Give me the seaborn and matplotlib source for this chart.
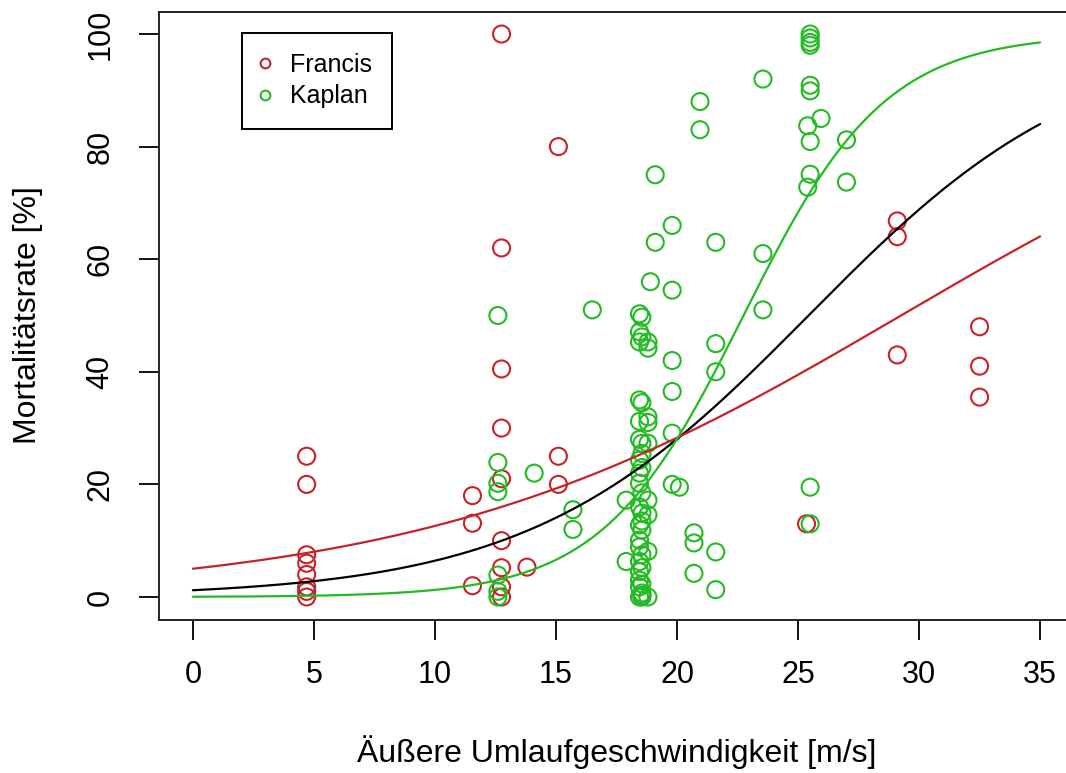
import numpy as np
import pandas as pd
import matplotlib
matplotlib.use("Agg")
import matplotlib.pyplot as plt
from matplotlib.lines import Line2D
import seaborn as sns

# ---------------- data ----------------
francis_x = ([4.7] * 8 + [11.55] * 3 + [12.75] * 9 + [13.8] + [15.1] * 3
             + [25.35] + [29.1] * 3 + [32.5] * 3)
francis_y = ([25, 20, 7.5, 6, 4, 1.8, 1, 0]
             + [18, 13.1, 2]
             + [100, 62, 40.5, 30, 21, 10, 5.2, 1.8, 0]
             + [5.3]
             + [80, 25, 20]
             + [13]
             + [66.8, 64, 43]
             + [48, 41, 35.5])

kaplan_x = ([12.6] * 7 + [14.1] + [15.7] * 2 + [16.5] + [17.9] * 2
            + [18.45] * 18 + [18.55] * 16 + [18.8] * 9
            + [18.9] + [19.1] * 2 + [19.8] * 6 + [20.1] + [20.7] * 3
            + [20.95] * 2 + [21.6] * 5 + [23.55] * 3 + [25.4] * 2
            + [25.5] * 10 + [25.95] + [27.0] * 2)
kaplan_y = ([50, 23.9, 20.2, 18.7, 3.9, 1, 0]
            + [22]
            + [15.5, 12]
            + [51]
            + [17.2, 6.3]
            + [50.3, 47.1, 45.3, 35, 31.2, 28, 24.3, 22, 20.2, 16, 12.8,
               10.1, 8.9, 6.3, 4.5, 3, 1.8, 0]
            + [49.7, 46.2, 34.5, 27.3, 25.5, 23, 18.5, 14.9, 13.5, 11.9,
               7.5, 5.2, 2.3, 0.7, 0.3, 0]
            + [45.3, 44.2, 32, 31, 27.3, 17.2, 14.6, 8.1, 0]
            + [56]
            + [75, 63]
            + [66, 54.5, 42, 36.5, 29.1, 20]
            + [19.5]
            + [11.4, 9.6, 4.2]
            + [88, 83]
            + [63, 45, 40, 8, 1.3]
            + [92, 61, 51]
            + [83.7, 72.8]
            + [100, 99.3, 98.5, 98, 90.9, 89.9, 80.9, 75.1, 19.5, 13]
            + [85]
            + [81.2, 73.7])

turbine_types = ["Francis", "Kaplan"]
# fitted logistic curves (black = all data, red = Francis, green = Kaplan)
curve_names = ["Gesamt", "Francis", "Kaplan"]
curve_intercept = [-4.41, -2.94, -7.78]
curve_slope = [0.1734, 0.1005, 0.342]
curve_x_range = [0, 35]

x_ticks = [0, 5, 10, 15, 20, 25, 30, 35]
y_ticks = [0, 20, 40, 60, 80, 100]

# ---------------- styling ----------------
RED = "#C82228"
GREEN = "#22BB22"
palette = {"Francis": RED, "Kaplan": GREEN}
curve_colors = {"Gesamt": "black", "Francis": RED, "Kaplan": GREEN}

sns.set_theme(style="ticks")
plt.rcParams["font.family"] = ["Liberation Sans", "DejaVu Sans"]
plt.rcParams["text.color"] = "black"
plt.rcParams["axes.labelcolor"] = "black"

points = pd.DataFrame({
    "x": francis_x + kaplan_x,
    "y": francis_y + kaplan_y,
    "Typ": ["Francis"] * len(francis_x) + ["Kaplan"] * len(kaplan_x),
})

xx = np.linspace(curve_x_range[0], curve_x_range[1], 300)
curve_frames = []
for name, b0, b1 in zip(curve_names, curve_intercept, curve_slope):
    curve_frames.append(pd.DataFrame({
        "x": xx,
        "y": 100.0 / (1.0 + np.exp(-(b0 + b1 * xx))),
        "Kurve": name,
    }))
curves = pd.concat(curve_frames, ignore_index=True)

fig = plt.figure(figsize=(10.66, 7.73), dpi=100)
ax = fig.add_axes([159 / 1066, 1 - 619.5 / 773, 915 / 1066, 608 / 773])

sns.scatterplot(data=points, x="x", y="y", hue="Typ", palette=palette,
                s=150, linewidth=1.5, marker="o", legend=False, ax=ax,
                zorder=2)
coll = ax.collections[-1]
fc = coll.get_facecolors()
coll.set_edgecolors(fc)
coll.set_facecolors("none")

sns.lineplot(data=curves, x="x", y="y", hue="Kurve",
             palette=curve_colors, hue_order=curve_names, linewidth=1.6,
             sort=False, estimator=None, legend=False, ax=ax, zorder=3)

ax.set_xlim(-1.4, 36.4)
ax.set_ylim(-4, 104)
ax.set_xticks(x_ticks)
ax.set_yticks(y_ticks)
ax.set_xticklabels([str(v) for v in x_ticks])
ax.set_yticklabels([str(v) for v in y_ticks], rotation=90, va="center")
ax.tick_params(axis="both", direction="out", length=14.4, width=1.3,
               labelsize=22, colors="black")
ax.tick_params(axis="x", pad=15)
ax.tick_params(axis="y", pad=17)
for sp in ax.spines.values():
    sp.set_visible(True)
    sp.set_linewidth(1.4)
    sp.set_color("#222222")

ax.set_xlabel("Äußere Umlaufgeschwindigkeit [m/s]", fontsize=23,
              va="center", color="black")
ax.set_ylabel("Mortalitätsrate [%]", fontsize=23, va="center",
              color="black")
ax.xaxis.set_label_coords(0.5, (619.5 - 752) / 608)
ax.yaxis.set_label_coords((28 - 159) / 915, 0.5)

handles = [Line2D([], [], marker="o", linestyle="none", markersize=7,
                  markerfacecolor="none", markeredgecolor=palette[t],
                  markeredgewidth=1.5, label=t) for t in turbine_types]
leg = ax.legend(handles=handles, loc="upper left",
                bbox_to_anchor=(83 / 915, 1 - 21.5 / 608), borderaxespad=0,
                fontsize=18, frameon=True, fancybox=False, framealpha=1,
                edgecolor="black", borderpad=0.8, handletextpad=0.85,
                labelspacing=0.3, handlelength=0.25)
leg.get_frame().set_linewidth(1.4)
for t in leg.get_texts():
    t.set_color("black")

fig.savefig("out.png", dpi=100, facecolor="white")
